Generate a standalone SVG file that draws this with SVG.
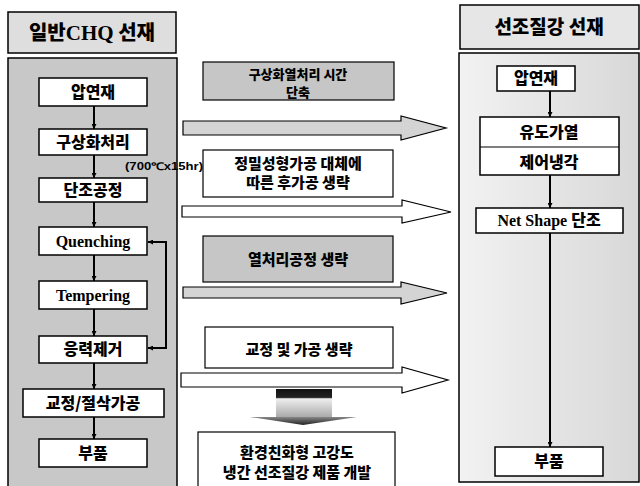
<svg xmlns="http://www.w3.org/2000/svg" width="640" height="486" viewBox="0 0 640 486">
<defs>
<marker id="ah" viewBox="0 0 10 10" refX="10" refY="5" markerWidth="5" markerHeight="5" orient="auto-start-reverse" markerUnits="userSpaceOnUse">
<path d="M0,0 L10,5 L0,10 z" fill="#000"/>
</marker>
<linearGradient id="shaftG" x1="0" y1="0" x2="0" y2="1">
<stop offset="0" stop-color="#111"/>
<stop offset="0.3" stop-color="#222"/>
<stop offset="0.35" stop-color="#eee"/>
<stop offset="1" stop-color="#aaa"/>
</linearGradient>
<linearGradient id="headG" x1="0" y1="0" x2="0" y2="1">
<stop offset="0" stop-color="#888"/>
<stop offset="1" stop-color="#222"/>
</linearGradient>
<linearGradient id="rpG" x1="0" y1="0" x2="1" y2="0">
<stop offset="0" stop-color="#f2f2f2"/>
<stop offset="1" stop-color="#d8d8d8"/>
</linearGradient>
</defs>
<style>
.panel{stroke:#000;stroke-width:1.5}
.box{fill:#fff;stroke:#000;stroke-width:1.5}
.gbox{fill:#c6c6c6;stroke:#000;stroke-width:1.2}
.wbox{fill:#fff;stroke:#000;stroke-width:1.2}
.kr{font-family:"Noto Sans CJK KR","Noto Sans",sans-serif;font-weight:900;fill:#000;text-anchor:middle}
.en{font-family:"Liberation Serif",serif;font-weight:bold;fill:#000;text-anchor:middle}
.ln{stroke:#000;stroke-width:2;fill:none}
.harrow{stroke:#000;stroke-width:1.2}
</style>
<rect width="640" height="486" fill="#fff"/>

<g id="left-title">
<rect x="8" y="12" width="168" height="41" fill="#dedede" class="panel"/>
<text x="92" y="40" font-size="20" class="kr">일반<tspan font-size="21" font-family="Liberation Serif,serif" font-weight="bold">CHQ</tspan> 선재</text>
</g>
<g id="left-panel">
<rect x="8" y="58" width="169" height="430" fill="#c8c8c8" class="panel"/>
</g>
<g id="right-title">
<rect x="460" y="5" width="179" height="44" fill="#e6e6e6" class="panel"/>
<text x="549" y="34" font-size="19" class="kr">선조질강 선재</text>
</g>
<g id="right-panel">
<rect x="459" y="53" width="180" height="429" fill="url(#rpG)" class="panel"/>
</g>

<g id="l-apyeonjae"><rect x="39" y="78" width="108" height="28" class="box"/><text x="93" y="98" font-size="16" class="kr">압연재</text></g>
<g id="l-gusanghwa"><rect x="39" y="129" width="108" height="26" class="box"/><text x="93" y="148" font-size="16" class="kr">구상화처리</text></g>
<g id="l-danjo"><rect x="39" y="178" width="108" height="24" class="box"/><text x="93" y="196" font-size="16" class="kr">단조공정</text></g>
<g id="l-quenching"><rect x="39" y="227" width="108" height="28" class="box"/><text x="93" y="247" font-size="16" class="en">Quenching</text></g>
<g id="l-tempering"><rect x="39" y="281" width="108" height="28" class="box"/><text x="93" y="301" font-size="16" class="en">Tempering</text></g>
<g id="l-eungryeok"><rect x="39" y="336" width="108" height="27" class="box"/><text x="93" y="355" font-size="16" class="kr">응력제거</text></g>
<g id="l-gyojeong"><rect x="23" y="389" width="141" height="28" class="box"/><text x="93" y="409" font-size="16" class="kr">교정/절삭가공</text></g>
<g id="l-bupum"><rect x="39" y="439" width="108" height="28" class="box"/><text x="93" y="459" font-size="16" class="kr">부품</text></g>

<g id="note-temp">
<text x="125" y="170" font-size="10.5" font-family="Liberation Sans,sans-serif" font-weight="bold" textLength="78" lengthAdjust="spacingAndGlyphs">(700℃x15hr)</text>
</g>

<g id="r-apyeonjae"><rect x="497" y="66" width="78" height="25" class="box"/><text x="536" y="84" font-size="16" class="kr">압연재</text></g>
<g id="r-yudo"><rect x="480" y="117" width="139" height="58" class="box"/><line x1="480" y1="147" x2="619" y2="147" stroke="#000" stroke-width="1.2"/><text x="549" y="138" font-size="16" class="kr">유도가열</text><text x="549" y="168" font-size="16" class="kr">제어냉각</text></g>
<g id="r-netshape"><rect x="476" y="208" width="147" height="25" class="box"/><text x="549" y="226" font-size="16" class="en">Net Shape <tspan class="kr">단조</tspan></text></g>
<g id="r-bupum"><rect x="495" y="447" width="108" height="29" class="box"/><text x="549" y="467" font-size="16" class="kr">부품</text></g>

<g id="m-box1"><rect x="203" y="62" width="191" height="38" class="gbox"/><text x="298" y="79" font-size="13" class="kr">구상화열처리 시간</text><text x="298" y="97" font-size="13" class="kr">단축</text></g>
<g id="m-box2"><rect x="203" y="150" width="190" height="47" class="wbox"/><text x="298" y="169" font-size="15" class="kr">정밀성형가공 대체에</text><text x="298" y="188" font-size="15" class="kr">따른 후가공 생략</text></g>
<g id="m-box3"><rect x="203" y="236" width="190" height="46" class="gbox"/><text x="298" y="265" font-size="15" class="kr">열처리공정 생략</text></g>
<g id="m-box4"><rect x="205" y="327" width="188" height="41" class="wbox"/><text x="299" y="355" font-size="15" class="kr">교정 및 가공 생략</text></g>
<g id="m-box5"><rect x="198" y="432" width="197" height="58" class="wbox"/><text x="297" y="458" font-size="15" class="kr">환경친화형 고강도</text><text x="297" y="478" font-size="15" class="kr">냉간 선조질강 제품 개발</text></g>

<g id="connectors">
<line x1="94" y1="106" x2="94" y2="129" class="ln" marker-end="url(#ah)"/>
<line x1="94" y1="155" x2="94" y2="178" class="ln" marker-end="url(#ah)"/>
<line x1="94" y1="202" x2="94" y2="227" class="ln" marker-end="url(#ah)"/>
<line x1="94" y1="255" x2="94" y2="281" class="ln" marker-end="url(#ah)"/>
<line x1="94" y1="309" x2="94" y2="336" class="ln" marker-end="url(#ah)"/>
<line x1="94" y1="363" x2="94" y2="389" class="ln" marker-end="url(#ah)"/>
<line x1="94" y1="417" x2="94" y2="439" class="ln" marker-end="url(#ah)"/>
<path d="M148,348 H166 V242 H148" class="ln" marker-start="url(#ah)" marker-end="url(#ah)"/>
<line x1="550" y1="91" x2="550" y2="117" class="ln" marker-end="url(#ah)"/>
<line x1="550" y1="175" x2="550" y2="208" class="ln" marker-end="url(#ah)"/>
<line x1="550" y1="233" x2="550" y2="447" class="ln" marker-end="url(#ah)"/>
<path d="M183,121 H401 V116 L446,128 L401,140 V135 H183 Z" fill="#d4d4d4" class="harrow"/>
<path d="M182,206 H402 V200 L451,212 L402,223 V217 H182 Z" fill="#fff" class="harrow"/>
<path d="M183,287 H401 V282 L447,293 L401,304 V298 H183 Z" fill="#d4d4d4" class="harrow"/>
<path d="M181,373 H402 V367 L448,380 L402,393 V387 H181 Z" fill="#fff" class="harrow"/>
<rect x="276" y="389" width="56" height="28" fill="url(#shaftG)"/>
<path d="M250,417 H357 L303,425 Z" fill="url(#headG)"/>
</g>
</svg>
